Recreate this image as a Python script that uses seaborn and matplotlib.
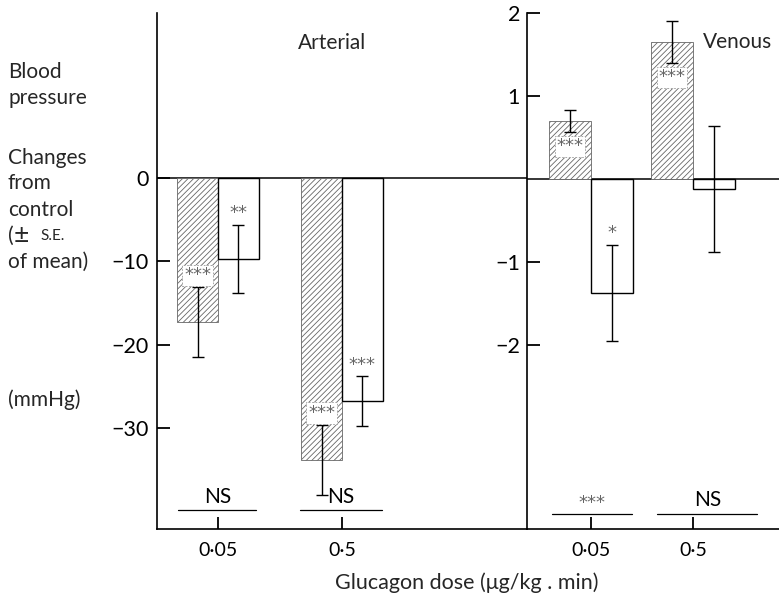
import matplotlib
matplotlib.use("Agg")
import matplotlib.pyplot as plt
import pandas as pd
import seaborn as sns

# glucagon doses and the two bar types (hatched / open)
doses = ["0·05", "0·5"]
groups = ["hatched", "open"]

# arterial blood pressure change (mmHg) +- S.E.
art_hatched = [-17.3, -33.8]
art_hatched_se = [4.2, 4.2]
art_open = [-9.7, -26.8]
art_open_se = [4.1, 3.0]
art_hatched_stars = ["***", "***"]
art_open_stars = ["**", "***"]
art_ns = ["NS", "NS"]

# venous pressure change (mmHg) +- S.E.
ven_hatched = [0.70, 1.65]
ven_hatched_se = [0.13, 0.25]
ven_open = [-1.37, -0.12]
ven_open_se = [0.58, 0.76]
ven_hatched_stars = ["***", "***"]
ven_open_stars = ["*", ""]
ven_ns = ["***", "NS"]

sns.set_style("ticks")
plt.rcParams["font.family"] = ["Lato", "DejaVu Sans"]
plt.rcParams["hatch.linewidth"] = 0.6
plt.rcParams["hatch.color"] = "#666666"

STAR_FONT = ["DejaVu Sans"]

fig = plt.figure(figsize=(7.79, 5.93), dpi=100)
ax1 = fig.add_axes([157 / 779, 64 / 593, (527 - 157) / 779, 516 / 593])
ax2 = fig.add_axes([527 / 779, 64 / 593, (779 - 527) / 779, 516 / 593])


def draw_panel(ax, hatched, hatched_se, opened, opened_se, h_stars, o_stars, width):
    df = pd.DataFrame({
        "dose": doses * 2,
        "group": ["hatched"] * 2 + ["open"] * 2,
        "change": hatched + opened,
    })
    sns.barplot(data=df, x="dose", y="change", hue="group", order=doses,
                hue_order=groups, width=width, errorbar=None, saturation=1,
                palette={"hatched": "white", "open": "white"}, legend=False, ax=ax)
    means = [hatched, opened]
    ses = [hatched_se, opened_se]
    stars = [h_stars, o_stars]
    bar_conts = list(ax.containers)
    for k, cont in enumerate(bar_conts):
        for bar, m, s, st in zip(cont, means[k], ses[k], stars[k]):
            if k == 0:
                bar.set_hatch("//////")
                bar.set_edgecolor("#666666")
                bar.set_linewidth(0.6)
            else:
                bar.set_edgecolor("black")
                bar.set_linewidth(1.0)
            x = bar.get_x() + bar.get_width() / 2
            ax.errorbar(x, m, yerr=s, color="black", lw=1.0, capsize=4, capthick=1.0)
            if not st:
                continue
            box = None
            if k == 0:
                box = dict(boxstyle="square,pad=0.1", fc="white", ec="#999999",
                           lw=0.6, ls=(0, (2, 2)))
            if m < 0:
                ax.annotate(st, (x, m + s), xytext=(0, 2), textcoords="offset points",
                            ha="center", va="bottom", fontsize=13, color="#666666",
                            bbox=box, family=STAR_FONT)
            else:
                ax.annotate(st, (x, m - s), xytext=(0, -4), textcoords="offset points",
                            ha="center", va="top", fontsize=13, color="#666666",
                            bbox=box, family=STAR_FONT)
    ax.axhline(0, color="black", lw=1.1, zorder=0.5)
    ax.set_xlabel("")
    ax.set_ylabel("")
    for sp in ["top", "right"]:
        ax.spines[sp].set_visible(False)
    for sp in ["left", "bottom"]:
        ax.spines[sp].set_linewidth(1.2)
        ax.spines[sp].set_color("black")
    ax.tick_params(direction="in", length=9, width=1.3, colors="black")
    ax.tick_params(axis="x", labelsize=14, pad=9)
    ax.tick_params(axis="y", labelsize=15.5, pad=6)
    ax.set_facecolor("none")


draw_panel(ax1, art_hatched, art_hatched_se, art_open, art_open_se,
           art_hatched_stars, art_open_stars, 0.66)
draw_panel(ax2, ven_hatched, ven_hatched_se, ven_open, ven_open_se,
           ven_hatched_stars, ven_open_stars, 0.82)

ax1.set_xlim(-0.492, 2.492)
ax1.set_ylim(-42.1, 19.8)
ax1.set_yticks([0, -10, -20, -30])
ax2.set_xlim(-0.627, 1.843)
ax2.set_ylim(-4.21, 1.98)
ax2.set_yticks([2, 1, -1, -2])
ax2.tick_params(axis="y", pad=5)

# significance lines between the two bars of each dose
art_spans = [(-0.32, 0.31), (-0.34, 0.32)]
ven_spans = [(-0.38, 0.40), (-0.35, 0.63)]
for ax, spans, labels, ly, ty in [(ax1, art_spans, art_ns, 0.037, 0.062),
                                   (ax2, ven_spans, ven_ns, 0.030, 0.056)]:
    tr = ax.get_xaxis_transform()
    for i, ((a, b), lab) in enumerate(zip(spans, labels)):
        ax.plot([i + a, i + b], [ly, ly], transform=tr, color="black", lw=0.9)
        if "*" in lab:
            ax.text(i + (a + b) / 2, ty - 0.006, lab, transform=tr, ha="center",
                    va="center", fontsize=13, color="#666666", family=STAR_FONT)
        else:
            ax.text(i + (a + b) / 2, ty, lab, transform=tr, ha="center",
                    va="center", fontsize=15, color="black")

fig.text(332 / 779, 1 - 43 / 593, "Arterial", ha="center", va="center", fontsize=15)
fig.text(738 / 779, 1 - 42 / 593, "Venous", ha="center", va="center", fontsize=15)

left_lines = [("Blood", 72), ("pressure", 98), ("Changes", 158), ("from", 183),
              ("control", 210), ("of mean)", 262), ("(mmHg)", 400)]
for txt, yy in left_lines:
    fig.text(8 / 779, 1 - yy / 593, txt, ha="left", va="center", fontsize=15)
fig.text(8 / 779, 1 - 236 / 593, "(", ha="left", va="center", fontsize=15)
fig.text(14 / 779, 1 - 236 / 593, "±", ha="left", va="center", fontsize=19)
fig.text(40 / 779, 1 - 236 / 593, "S.E.", ha="left", va="center", fontsize=11)

fig.text(467 / 779, 1 - 583 / 593, "Glucagon dose (μg/kg . min)", ha="center",
         va="center", fontsize=15.5)

fig.savefig("out.png", dpi=100)
